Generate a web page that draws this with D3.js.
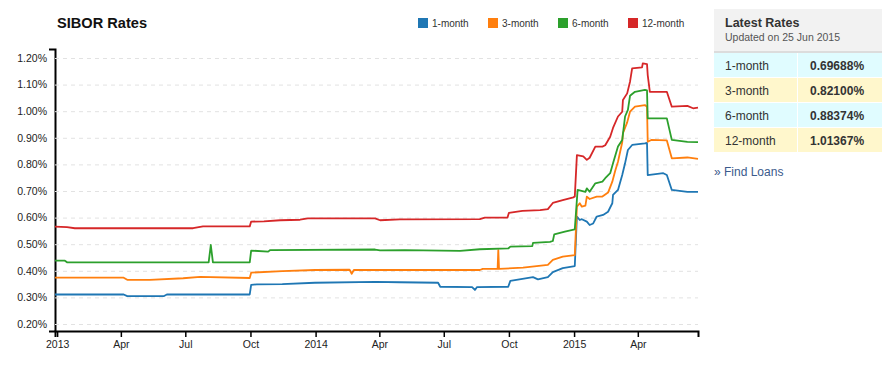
<!DOCTYPE html>
<html>
<head>
<meta charset="utf-8">
<script src="https://cdn.jsdelivr.net/npm/d3@7"></script>
<style>
  body { margin: 0; background: #fff; font-family: Arial, "Liberation Sans", sans-serif; }
  .axis path, .axis line { stroke: #000; }
  .axis text { fill: #222; font-size: 10.5px; font-family: Arial, "Liberation Sans", sans-serif; }
  .grid line { stroke: #e2e2e2; stroke-dasharray: 4,4; }
</style>
</head>
<body>
<svg id="chart" width="891" height="365"></svg>
<script>
// series : date, rate(%)
var oneMonth = [
  ["2012-12-29",0.311],["2013-04-05",0.311],["2013-04-10",0.305],["2013-06-01",0.305],["2013-06-05",0.311],
  ["2013-09-30",0.311],["2013-10-02",0.347],["2013-10-10",0.349],["2013-11-15",0.350],["2013-12-31",0.355],
  ["2014-03-26",0.358],["2014-04-30",0.357],["2014-06-23",0.355],["2014-06-26",0.340],["2014-08-10",0.339],
  ["2014-08-14",0.328],["2014-08-17",0.339],["2014-09-30",0.340],["2014-10-03",0.362],["2014-11-04",0.376],
  ["2014-11-11",0.368],["2014-11-25",0.376],["2014-12-02",0.395],["2014-12-16",0.410],["2015-01-02",0.418],
  ["2015-01-05",0.604],["2015-01-09",0.591],["2015-01-12",0.594],["2015-01-19",0.585],["2015-01-23",0.572],
  ["2015-01-28",0.578],["2015-02-02",0.604],["2015-02-11",0.610],["2015-02-18",0.622],["2015-02-24",0.654],
  ["2015-02-25",0.685],["2015-03-04",0.704],["2015-03-10",0.760],["2015-03-14",0.804],["2015-03-18",0.854],
  ["2015-03-24",0.873],["2015-04-11",0.879],["2015-04-14",0.881],["2015-04-15",0.760],["2015-05-07",0.767],
  ["2015-05-12",0.760],["2015-05-19",0.704],["2015-06-10",0.697],["2015-06-25",0.697]
];
var threeMonth = [
  ["2012-12-29",0.374],["2013-04-05",0.374],["2013-04-10",0.366],["2013-05-12",0.366],["2013-06-28",0.372],
  ["2013-07-22",0.377],["2013-09-30",0.373],["2013-10-02",0.393],["2013-11-15",0.399],["2013-12-31",0.403],
  ["2014-02-18",0.404],["2014-02-21",0.389],["2014-02-24",0.403],["2014-08-21",0.403],["2014-08-25",0.407],
  ["2014-09-15",0.407],["2014-09-16",0.478],["2014-09-17",0.407],["2014-10-21",0.412],["2014-11-25",0.422],
  ["2014-12-02",0.441],["2014-12-16",0.453],["2015-01-02",0.459],["2015-01-05",0.641],["2015-01-09",0.654],
  ["2015-01-12",0.641],["2015-01-17",0.645],["2015-01-19",0.679],["2015-01-23",0.670],["2015-02-02",0.679],
  ["2015-02-10",0.679],["2015-02-18",0.694],["2015-02-24",0.735],["2015-02-28",0.775],["2015-03-04",0.810],
  ["2015-03-10",0.883],["2015-03-11",0.917],["2015-03-17",0.958],["2015-03-21",0.998],["2015-03-28",1.017],
  ["2015-04-11",1.023],["2015-04-14",1.017],["2015-04-15",0.885],["2015-04-20",0.892],["2015-05-12",0.890],
  ["2015-05-19",0.823],["2015-06-10",0.826],["2015-06-25",0.821]
];
var sixMonth = [
  ["2012-12-29",0.438],["2013-01-12",0.438],["2013-01-15",0.432],["2013-08-03",0.432],["2013-08-06",0.497],
  ["2013-08-09",0.432],["2013-09-30",0.432],["2013-10-02",0.476],["2013-10-26",0.472],["2013-10-29",0.478],
  ["2014-03-26",0.480],["2014-04-02",0.477],["2014-05-07",0.478],["2014-07-24",0.475],["2014-08-21",0.481],
  ["2014-09-30",0.484],["2014-10-03",0.491],["2014-11-03",0.493],["2014-11-04",0.505],["2014-11-28",0.509],
  ["2014-12-02",0.512],["2014-12-04",0.537],["2014-12-19",0.547],["2015-01-02",0.556],["2015-01-06",0.704],
  ["2015-01-17",0.697],["2015-01-19",0.710],["2015-01-23",0.697],["2015-01-31",0.729],["2015-02-10",0.735],
  ["2015-02-14",0.748],["2015-02-21",0.767],["2015-02-25",0.804],["2015-03-04",0.867],["2015-03-10",0.892],
  ["2015-03-14",0.980],["2015-03-18",1.005],["2015-03-21",1.058],["2015-03-28",1.073],["2015-04-11",1.080],
  ["2015-04-14",1.078],["2015-04-15",0.973],["2015-05-12",0.973],["2015-05-19",0.892],["2015-06-10",0.885],
  ["2015-06-25",0.884]
];
var twelveMonth = [
  ["2012-12-29",0.566],["2013-01-15",0.564],["2013-01-26",0.560],["2013-07-12",0.560],["2013-07-26",0.567],
  ["2013-09-30",0.567],["2013-10-02",0.585],["2013-10-20",0.586],["2013-11-12",0.590],["2013-12-10",0.592],
  ["2013-12-21",0.597],["2014-03-26",0.597],["2014-04-02",0.590],["2014-04-30",0.593],["2014-08-21",0.594],
  ["2014-08-28",0.600],["2014-09-29",0.600],["2014-10-01",0.618],["2014-10-20",0.625],["2014-11-14",0.628],
  ["2014-11-25",0.632],["2014-12-02",0.655],["2014-12-16",0.666],["2014-12-31",0.676],["2015-01-02",0.679],
  ["2015-01-05",0.835],["2015-01-14",0.830],["2015-01-19",0.817],["2015-01-23",0.825],["2015-01-31",0.867],
  ["2015-02-10",0.867],["2015-02-14",0.872],["2015-02-21",0.904],["2015-02-25",0.937],["2015-03-04",0.980],
  ["2015-03-10",0.998],["2015-03-11",1.042],["2015-03-17",1.067],["2015-03-21",1.111],["2015-03-24",1.161],
  ["2015-04-07",1.165],["2015-04-08",1.180],["2015-04-14",1.177],["2015-04-15",1.136],["2015-04-18",1.073],
  ["2015-05-12",1.073],["2015-05-19",1.017],["2015-06-10",1.020],["2015-06-18",1.011],["2015-06-25",1.0137]
];

var seriesNames = ["1-month","3-month","6-month","12-month"];
var seriesColors = ["#1f77b4","#ff7f0e","#2ca02c","#d62728"];
var yTicks = [0.2,0.3,0.4,0.5,0.6,0.7,0.8,0.9,1.0,1.1,1.2];
var latestValues = ["0.69688%","0.82100%","0.88374%","1.01367%"];
var updatedText = "Updated on 25 Jun 2015";

var margin = {top: 49, right: 193, bottom: 34, left: 55},
    W = 891, H = 365,
    width = W - margin.left - margin.right,
    height = H - margin.top - margin.bottom;

var parse = d3.timeParse("%Y-%m-%d");
var allSeries = [oneMonth, threeMonth, sixMonth, twelveMonth].map(function(s){
  return s.map(function(d){ return {date: parse(d[0]), value: d[1]}; });
});

var svg = d3.select("#chart");
var g = svg.append("g").attr("transform", "translate(" + margin.left + "," + margin.top + ")");

var x = d3.scaleTime()
  .domain([parse("2012-12-29"), parse("2015-06-25")])
  .range([0, width]);
var y = d3.scaleLinear()
  .domain([0.1737, 1.2338])
  .range([height, 0]);

// grid + y axis
var yAxis = g.append("g").attr("class", "axis grid")
  .call(d3.axisLeft(y).tickValues(yTicks).tickSize(-width).tickSizeOuter(6).tickPadding(8)
    .tickFormat(function(d){ return d.toFixed(2) + "%"; }));
yAxis.select(".domain").attr("stroke-width", 2);
yAxis.selectAll(".tick line").attr("stroke", "#e2e2e2").attr("stroke-dasharray", "4,4");

var fmtTick = function(d){ return d.getMonth() === 0 ? d3.timeFormat("%Y")(d) : d3.timeFormat("%b")(d); };
var xAxis = g.append("g").attr("class", "axis")
  .attr("transform", "translate(0," + height + ")")
  .call(d3.axisBottom(x).ticks(d3.timeMonth.every(3)).tickFormat(fmtTick).tickSize(6).tickPadding(4));
xAxis.select(".domain").attr("stroke-width", 2);
xAxis.selectAll(".tick line").attr("stroke-width", 1.5);

var line = d3.line()
  .x(function(d){ return x(d.date); })
  .y(function(d){ return y(d.value); });

g.selectAll(".series").data(allSeries).enter().append("path")
  .attr("class", "series")
  .attr("fill", "none")
  .attr("stroke", function(d, i){ return seriesColors[i]; })
  .attr("stroke-width", 1.8)
  .attr("stroke-linejoin", "round")
  .attr("d", line);

// title
svg.append("text").attr("x", 57).attr("y", 28)
  .attr("font-size", "14.6px").attr("font-weight", "bold").attr("fill", "#111")
  .text("SIBOR Rates");

// legend
var legend = svg.selectAll(".legend").data(seriesNames).enter().append("g")
  .attr("class", "legend")
  .attr("transform", function(d, i){ return "translate(" + (418 + i * 70) + ",18)"; });
legend.append("rect").attr("width", 10).attr("height", 10)
  .attr("fill", function(d, i){ return seriesColors[i]; });
legend.append("text").attr("x", 14).attr("y", 9)
  .attr("font-size", "10px").attr("fill", "#333")
  .text(function(d){ return d; });

// latest rates panel
var panel = svg.append("g").attr("transform", "translate(714,9)");
panel.append("rect").attr("width", 168).attr("height", 43).attr("fill", "#f2f2f2");
panel.append("rect").attr("y", 42).attr("width", 168).attr("height", 2).attr("fill", "#dcdcdc");
panel.append("text").attr("x", 11).attr("y", 18)
  .attr("font-size", "12.5px").attr("font-weight", "bold").attr("fill", "#333").text("Latest Rates");
panel.append("text").attr("x", 11).attr("y", 32)
  .attr("font-size", "10.5px").attr("fill", "#555").text(updatedText);

var rows = panel.selectAll(".row").data(seriesNames).enter().append("g")
  .attr("class", "row")
  .attr("transform", function(d, i){ return "translate(0," + (44 + i * 25) + ")"; });
rows.append("rect").attr("width", 83).attr("height", 24)
  .attr("fill", function(d, i){ return i % 2 ? "#fff7cc" : "#e0fcff"; });
rows.append("rect").attr("x", 84).attr("width", 84).attr("height", 24)
  .attr("fill", function(d, i){ return i % 2 ? "#fff7cc" : "#e0fcff"; });
rows.append("text").attr("x", 11).attr("y", 17)
  .attr("font-size", "12px").attr("fill", "#333").text(function(d){ return d; });
rows.append("text").attr("x", 96).attr("y", 17)
  .attr("font-size", "12px").attr("font-weight", "bold").attr("fill", "#333")
  .text(function(d, i){ return latestValues[i]; });

svg.append("text").attr("x", 714).attr("y", 176)
  .attr("font-size", "12px").attr("fill", "#3b5a8c").text("\u00bb Find Loans");
</script>
</body>
</html>
